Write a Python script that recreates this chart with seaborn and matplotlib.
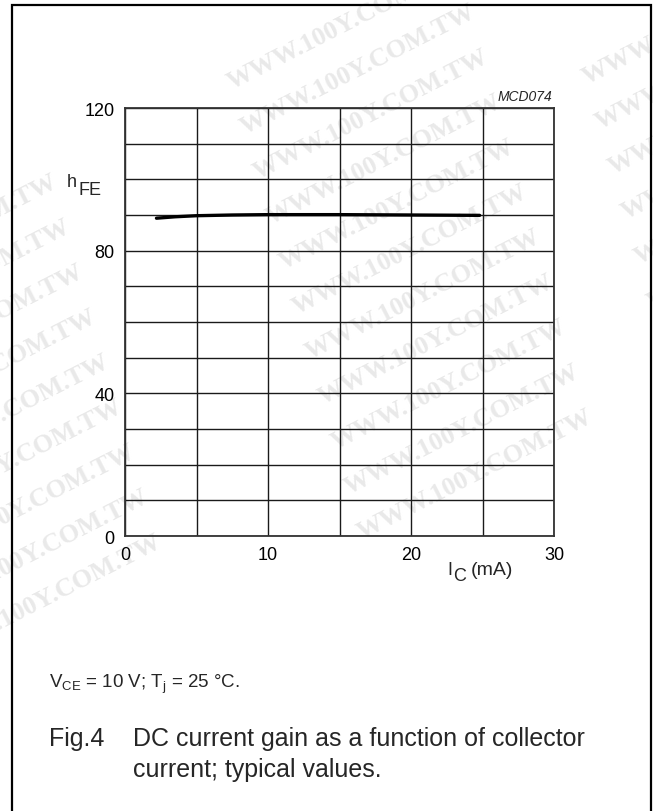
import numpy as np
import pandas as pd
import matplotlib
matplotlib.use("Agg")
import matplotlib.pyplot as plt
import seaborn as sns
from matplotlib.patches import Rectangle
from matplotlib.ticker import FixedLocator

# Typical DC current gain vs collector current (VCE = 10 V, Tj = 25 C)
ic_ma = [2.2, 3.5, 5.0, 7.5, 10.0, 15.0, 20.0, 24.8]
hfe = [89.1, 89.5, 89.8, 90.0, 90.1, 90.1, 90.0, 89.9]

x_major = [0, 10, 20, 30]
x_minor = [5, 15, 25]
y_major = [0, 40, 80, 120]
y_minor = [10, 20, 30, 50, 60, 70, 90, 100, 110]

W, H = 653, 812

sns.set_theme(style="white")
plt.rcParams['font.family'] = ['Liberation Sans', 'DejaVu Sans']
plt.rcParams['mathtext.fontset'] = 'custom'
plt.rcParams['mathtext.rm'] = 'Liberation Sans'

fig = plt.figure(figsize=(W / 100, H / 100), dpi=100)
fig.patch.set_facecolor("white")


def px(x, y):
    return x / W, 1 - y / H


# faint diagonal watermark behind the chart
wm_kw = dict(rotation=27, color="#e9e9e9", fontsize=19, fontweight="bold",
             family="Liberation Serif", ha="center", va="center", zorder=-5)
columns = [(-60, 240, 9), (345, 25, 11), (700, 20, 6)]
for cx, cy, n in columns:
    for k in range(n):
        fig.text(*px(cx + 13 * k, cy + 45 * k), "WWW.100Y.COM.TW", **wm_kw)

left, top, right, bottom = 125, 109, 554, 537
ax = fig.add_axes([left / W, 1 - bottom / H, (right - left) / W, (bottom - top) / H])
ax.set_facecolor("none")

df = pd.DataFrame({"IC": ic_ma, "hFE": hfe})
sns.lineplot(data=df, x="IC", y="hFE", ax=ax, color="black", linewidth=2.4,
             zorder=5, legend=False)

ax.set_xlim(0, 30)
ax.set_ylim(0, 120)
ax.xaxis.set_major_locator(FixedLocator(x_major))
ax.xaxis.set_minor_locator(FixedLocator(x_minor))
ax.yaxis.set_major_locator(FixedLocator(y_major))
ax.yaxis.set_minor_locator(FixedLocator(y_minor))
ax.set_xticklabels([str(v) for v in x_major])
ax.set_yticklabels([str(v) for v in y_major])
ax.grid(True, which="both", color="#1a1a1a", linewidth=1.0)
ax.tick_params(axis="both", which="both", length=0, labelsize=13, colors="black")
ax.tick_params(axis="x", pad=7)
ax.tick_params(axis="y", pad=7.5)
ax.set_xlabel("")
ax.set_ylabel("")
for s in ax.spines.values():
    s.set_color("#333333")
    s.set_linewidth(1.3)

# axis captions
fig.text(*px(67, 187), "h", fontsize=13, ha="left", va="baseline")
fig.text(*px(78, 195), "FE", fontsize=13, ha="left", va="baseline")
fig.text(*px(447, 575), "I", fontsize=13, ha="left", va="baseline")
fig.text(*px(453, 581), "C", fontsize=13, ha="left", va="baseline")
fig.text(*px(471, 575), "(mA)", fontsize=14, ha="left", va="baseline")
fig.text(*px(552, 97), "MCD074", fontsize=10, style="italic", ha="right", va="center")

# conditions and figure caption
fig.text(*px(49, 688), r"V$_{\mathregular{CE}}$ = 10 V; T$_{\mathregular{j}}$ = 25 °C.",
         fontsize=13.5, ha="left", va="baseline")
fig.text(*px(49, 746), "Fig.4", fontsize=18, ha="left", va="baseline")
fig.text(*px(133, 746), "DC current gain as a function of collector",
         fontsize=18, ha="left", va="baseline")
fig.text(*px(133, 777), "current; typical values.", fontsize=18, ha="left", va="baseline")

# outer frame
fig.add_artist(Rectangle(px(11.5, 830), (651 - 11.5) / W, (830 - 6) / H,
                         transform=fig.transFigure, fill=False,
                         edgecolor="black", linewidth=1.6, zorder=10))

fig.savefig("out.png", dpi=100, facecolor="white")
